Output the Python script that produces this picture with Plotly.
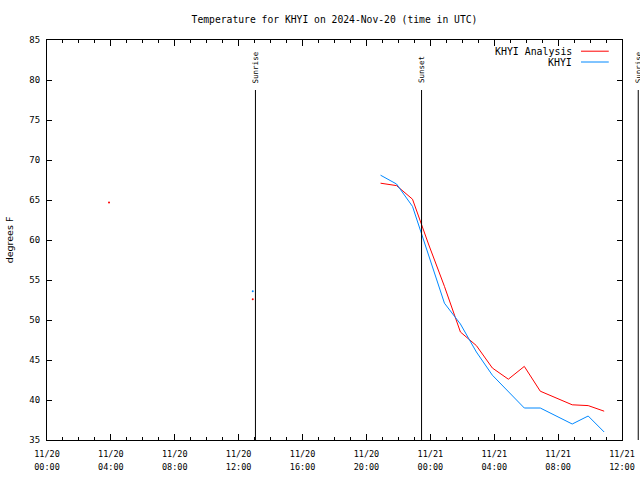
import pandas as pd
import plotly.graph_objects as go

# ---------------- data ----------------
x_start = "2024-11-20 00:00"
x_end = "2024-11-21 12:00"

obs_times = [
    "2024-11-20 20:53", "2024-11-20 21:53", "2024-11-20 22:53", "2024-11-20 23:53",
    "2024-11-21 00:53", "2024-11-21 01:53", "2024-11-21 02:53", "2024-11-21 03:53",
    "2024-11-21 04:53", "2024-11-21 05:53", "2024-11-21 06:53", "2024-11-21 07:53",
    "2024-11-21 08:53", "2024-11-21 09:53", "2024-11-21 10:53",
]
analysis_temps = [67.1, 66.8, 65.1, 59.5, 54.2, 48.5, 46.8, 44.0, 42.6, 44.2,
                  41.1, 40.2, 39.4, 39.3, 38.6]
khyi_temps = [68.1, 67.0, 64.2, 58.0, 52.1, 49.5, 46.0, 43.1, 41.0, 39.0,
              39.0, 38.0, 37.0, 38.0, 36.0]

# isolated single readings (no neighbours -> drawn as dots)
analysis_iso_times = ["2024-11-20 03:53", "2024-11-20 12:53"]
analysis_iso_temps = [64.7, 52.6]
khyi_iso_times = ["2024-11-20 12:53"]
khyi_iso_temps = [53.6]

sun_event_times = ["2024-11-20 13:03", "2024-11-20 23:27", "2024-11-21 13:01"]
sun_event_labels = ["Sunrise", "Sunset", "Sunrise"]

tick_times = ["2024-11-20 00:00", "2024-11-20 04:00", "2024-11-20 08:00",
              "2024-11-20 12:00", "2024-11-20 16:00", "2024-11-20 20:00",
              "2024-11-21 00:00", "2024-11-21 04:00", "2024-11-21 08:00",
              "2024-11-21 12:00"]
tick_dates = ["11/20", "11/20", "11/20", "11/20", "11/20", "11/20",
              "11/21", "11/21", "11/21", "11/21"]
tick_hours = ["00:00", "04:00", "08:00", "12:00", "16:00", "20:00",
              "00:00", "04:00", "08:00", "12:00"]

series_names = ["KHYI Analysis", "KHYI"]
series_colors = ["#ff0000", "#0088ff"]

# ---------------- figure ----------------
MONO = "DejaVu Sans Mono"
fig = go.Figure()

fig.add_trace(go.Scatter(x=obs_times, y=analysis_temps, mode="lines",
                         line=dict(color=series_colors[0], width=1),
                         name=series_names[0], showlegend=False))
fig.add_trace(go.Scatter(x=obs_times, y=khyi_temps, mode="lines",
                         line=dict(color=series_colors[1], width=1),
                         name=series_names[1], showlegend=False))
fig.add_trace(go.Scatter(x=analysis_iso_times, y=analysis_iso_temps, mode="markers",
                         marker=dict(color=series_colors[0], size=2),
                         showlegend=False))
fig.add_trace(go.Scatter(x=khyi_iso_times, y=khyi_iso_temps, mode="markers",
                         marker=dict(color=series_colors[1], size=2),
                         showlegend=False))
# invisible carrier so the second-line (hour) tick axis is drawn
fig.add_trace(go.Scatter(x=[x_start, x_end], y=[35, 35], xaxis="x2",
                         mode="none", showlegend=False, hoverinfo="skip"))

t0 = pd.Timestamp(x_start)
t1 = pd.Timestamp(x_end)
span = (t1 - t0).total_seconds()

shapes = []
annotations = []
for t, lab in zip(sun_event_times, sun_event_labels):
    px = (pd.Timestamp(t) - t0).total_seconds() / span
    shapes.append(dict(type="line", xref="paper", yref="paper", x0=px, x1=px,
                       y0=0, y1=0.875, line=dict(color="black", width=1)))
    annotations.append(dict(xref="paper", yref="paper", x=px, y=0.8875,
                            text=lab, textangle=-90, showarrow=False,
                            xanchor="center", yanchor="bottom",
                            font=dict(family=MONO, size=7.5, color="black")))

# gnuplot-style key (text right, sample line to its right)
key_rows_y = [0.972, 0.945]
for name, col, ky in zip(series_names, series_colors, key_rows_y):
    annotations.append(dict(xref="paper", yref="paper", x=0.9165, y=ky,
                            text=name, showarrow=False, xanchor="right",
                            yanchor="middle",
                            font=dict(family=MONO, size=9.9, color="black")))
    shapes.append(dict(type="line", xref="paper", yref="paper", x0=0.9287,
                       x1=0.977, y0=ky, y1=ky, line=dict(color=col, width=1)))

fig.update_layout(
    width=640, height=480,
    margin=dict(l=47, r=18, t=40, b=40, autoexpand=False),
    paper_bgcolor="white", plot_bgcolor="white",
    title=dict(text="Temperature for KHYI on 2024-Nov-20 (time in UTC)",
               x=0.5, xref="paper", y=1 - 20 / 480, yanchor="middle",
               font=dict(family=MONO, size=9.7, color="black")),
    shapes=shapes, annotations=annotations,
    xaxis=dict(type="date", range=[x_start, x_end], tickmode="array",
               tickvals=tick_times, ticktext=tick_dates,
               ticks="inside", ticklen=6, tickcolor="black",
               showline=True, linecolor="black", linewidth=1, mirror="ticks",
               showgrid=False, zeroline=False, ticklabelstandoff=6,
               automargin=False,
               minor=dict(dtick=3600000, ticks="inside", ticklen=3,
                          tickcolor="black", showgrid=False),
               tickfont=dict(family=MONO, size=8.5, color="black")),
    xaxis2=dict(type="date", range=[x_start, x_end], overlaying="x",
                anchor="y", side="bottom", tickmode="array",
                tickvals=tick_times, ticktext=tick_hours, ticks="",
                showline=False, showgrid=False, zeroline=False,
                ticklabelstandoff=20, automargin=False,
                tickfont=dict(family=MONO, size=8.5, color="black")),
    yaxis=dict(range=[35, 85], dtick=5, ticks="inside", ticklen=5,
               tickcolor="black", showline=True, linecolor="black",
               linewidth=1, mirror="ticks", showgrid=False, zeroline=False,
               ticklabelstandoff=4, automargin=False,
               tickfont=dict(family=MONO, size=9, color="black"),
               title=dict(text="degrees F", standoff=14,
                          font=dict(family="DejaVu Sans", size=9.5,
                                    color="black"))),
)

fig.write_html("out.html", config={"displayModeBar": False},
               post_script="document.body.style.margin='0';")
